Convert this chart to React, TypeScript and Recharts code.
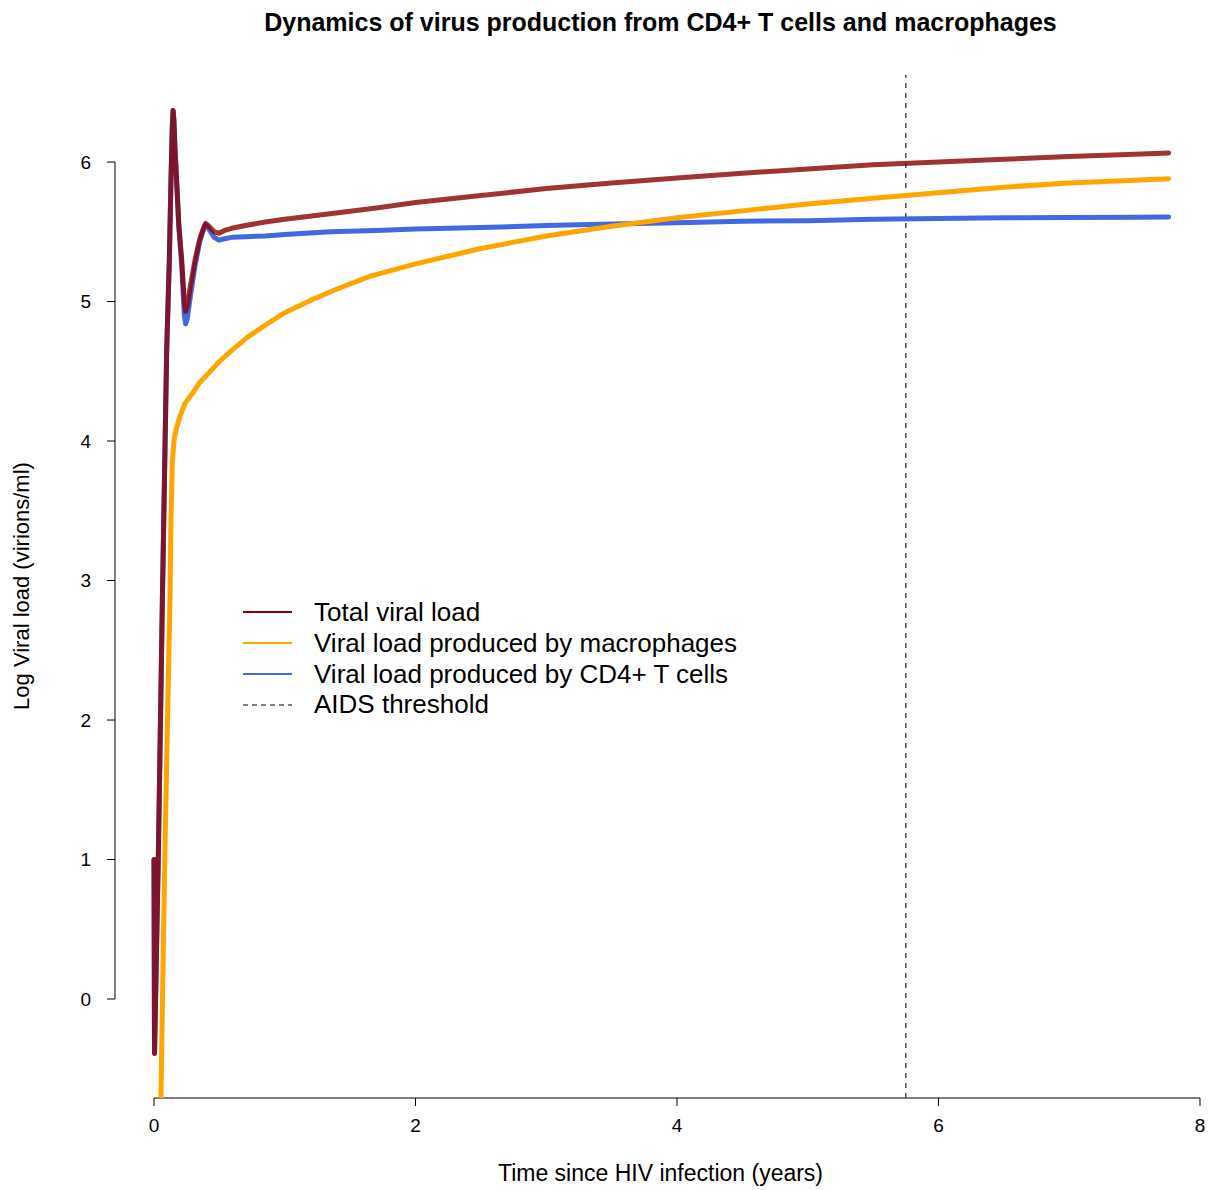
import React from 'react';
import { LineChart, Line, XAxis, YAxis, ReferenceLine } from 'recharts';

// time points (years) shared by total and CD4+ T cell series
const years = [
  0, 0.004, 0.033, 0.064, 0.097, 0.117, 0.13, 0.14, 0.146, 0.152, 0.16, 0.174, 0.19,
  0.212, 0.232, 0.242, 0.255, 0.28, 0.314, 0.35, 0.38, 0.395, 0.42, 0.46, 0.497, 0.54,
  0.594, 0.7, 0.85, 1.0, 1.346, 1.7, 2.0, 2.5, 3.0, 3.5, 4.0, 4.5, 5.0, 5.5, 6.0, 6.5,
  7.0, 7.5, 7.76,
];

const totalLog = [
  1.0, -0.39, 1.02, 2.86, 4.65, 5.29, 5.88, 6.25, 6.37, 6.3, 6.1, 5.85, 5.55,
  5.3, 5.0, 4.93, 4.97, 5.12, 5.3, 5.45, 5.53, 5.56, 5.54, 5.5, 5.49, 5.51,
  5.525, 5.545, 5.57, 5.59, 5.63, 5.67, 5.71, 5.76, 5.81, 5.85, 5.885, 5.92, 5.95, 5.98, 6.0, 6.02,
  6.04, 6.055, 6.065,
];

const cd4Log = [
  1.0, -0.39, 1.02, 2.86, 4.65, 5.29, 5.88, 6.25, 6.37, 6.3, 6.1, 5.84, 5.53,
  5.26, 4.9, 4.84, 4.88, 5.05, 5.26, 5.43, 5.52, 5.55, 5.52, 5.46, 5.44, 5.45,
  5.46, 5.465, 5.47, 5.48, 5.5, 5.51, 5.52, 5.53, 5.545, 5.555, 5.565, 5.575, 5.58, 5.59, 5.595, 5.6,
  5.603, 5.605, 5.606,
];

// macrophage series has its own time grid
const macroYears = [
  0.05, 0.054, 0.07, 0.084, 0.1, 0.122, 0.13, 0.14, 0.155, 0.174, 0.2, 0.237, 0.3, 0.35,
  0.441, 0.5, 0.594, 0.709, 0.85, 1.0, 1.2, 1.4, 1.65, 2.0, 2.5, 3.0, 3.5, 4.0, 4.5,
  5.0, 5.5, 6.0, 6.5, 7.0, 7.5, 7.76,
];

const macroLog = [
  -0.9, -0.65, 0.3, 1.07, 1.85, 2.85, 3.45, 3.85, 4.02, 4.1, 4.18, 4.27, 4.35, 4.42,
  4.51, 4.57, 4.65, 4.74, 4.83, 4.92, 5.01, 5.09, 5.18, 5.27, 5.38, 5.47, 5.54, 5.6, 5.65,
  5.7, 5.74, 5.78, 5.82, 5.85, 5.87, 5.88,
];

const xTicks = [0, 2, 4, 6, 8];
const yTicks = [0, 1, 2, 3, 4, 5, 6];
const aidsYear = 5.75;

const legendItems = [
  { label: 'Total viral load', color: '#8B0000', dash: '' },
  { label: 'Viral load produced by macrophages', color: '#FFA500', dash: '' },
  { label: 'Viral load produced by CD4+ T cells', color: '#4169E1', dash: '' },
  { label: 'AIDS threshold', color: '#000000', dash: '5 4' },
];

const X_MIN = -0.2983;
const X_MAX = 8.046;
const Y_MIN = -0.7097;
const Y_MAX = 6.624;

const FONT = '"Liberation Sans", Arial, sans-serif';

const totalData = years.map((t, i) => ({ t, v: totalLog[i] }));
const cd4Data = years.map((t, i) => ({ t, v: cd4Log[i] }));
const macroData = macroYears.map((t, i) => ({ t, v: macroLog[i] }));

export default function App() {
  return (
    <div style={{ position: 'absolute', left: 0, top: 0, width: 1212, height: 1190, background: '#fff', fontFamily: FONT }}>
      <LineChart width={1212} height={1190} margin={{ top: 75, right: 6, left: 55, bottom: 52 }}>
        <XAxis
          type="number"
          dataKey="t"
          domain={[X_MIN, X_MAX]}
          ticks={xTicks}
          interval={0}
          allowDataOverflow
          axisLine={false}
          tickLine={{ stroke: '#000', strokeWidth: 1 }}
          tickSize={8}
          tickMargin={13}
          height={40}
          tick={{ fill: '#000', fontSize: 19, fontFamily: FONT }}
        />
        <YAxis
          type="number"
          domain={[Y_MIN, Y_MAX]}
          ticks={yTicks}
          interval={0}
          allowDataOverflow
          axisLine={false}
          tickLine={{ stroke: '#000', strokeWidth: 1 }}
          tickSize={8}
          tickMargin={16}
          width={60}
          tick={{ fill: '#000', fontSize: 19, fontFamily: FONT }}
        />
        {/* R style axis lines that only span the tick range */}
        <ReferenceLine segment={[{ x: 0, y: Y_MIN }, { x: 8, y: Y_MIN }]} stroke="#000" strokeWidth={1} ifOverflow="visible" />
        <ReferenceLine segment={[{ x: X_MIN, y: 0 }, { x: X_MIN, y: 6 }]} stroke="#000" strokeWidth={1} ifOverflow="visible" />
        <ReferenceLine x={aidsYear} stroke="#4d4d4d" strokeWidth={1.5} strokeDasharray="5 5" ifOverflow="visible" />

        <Line data={cd4Data} dataKey="v" type="linear" stroke="#4169E1" strokeWidth={5} dot={false}
          strokeLinecap="round" strokeLinejoin="round" isAnimationActive={false} />
        <Line data={macroData} dataKey="v" type="linear" stroke="#FFA500" strokeWidth={5} dot={false}
          strokeLinecap="round" strokeLinejoin="round" isAnimationActive={false} />
        <Line data={totalData} dataKey="v" type="linear" stroke="#8B0000" strokeOpacity={0.8} strokeWidth={5} dot={false}
          strokeLinecap="round" strokeLinejoin="round" isAnimationActive={false} />
      </LineChart>

      <div style={{ position: 'absolute', left: 0, width: 1321, top: 8, textAlign: 'center', fontWeight: 'bold', fontSize: 25, lineHeight: '28px' }}>
        Dynamics of virus production from CD4+ T cells and macrophages
      </div>
      <div style={{ position: 'absolute', left: 0, width: 1321, top: 1159, textAlign: 'center', fontSize: 23, lineHeight: '28px' }}>
        Time since HIV infection (years)
      </div>
      <div style={{ position: 'absolute', left: 22, top: 586, width: 0, height: 0 }}>
        <div style={{ position: 'absolute', transform: 'translate(-50%, -50%) rotate(-90deg)', whiteSpace: 'nowrap', fontSize: 22, lineHeight: '28px' }}>
          Log Viral load (virions/ml)
        </div>
      </div>

      <div style={{ position: 'absolute', left: 243, top: 597 }}>
        {legendItems.map((item) => (
          <div key={item.label} style={{ display: 'flex', alignItems: 'center', height: 30.8 }}>
            <svg width={49} height={10} style={{ marginRight: 22 }}>
              <line x1={0} y1={5} x2={49} y2={5} stroke={item.color} strokeWidth={item.dash ? 1.2 : 2} strokeDasharray={item.dash || undefined} />
            </svg>
            <span style={{ fontSize: 26, whiteSpace: 'nowrap', color: '#000' }}>{item.label}</span>
          </div>
        ))}
      </div>
    </div>
  );
}
